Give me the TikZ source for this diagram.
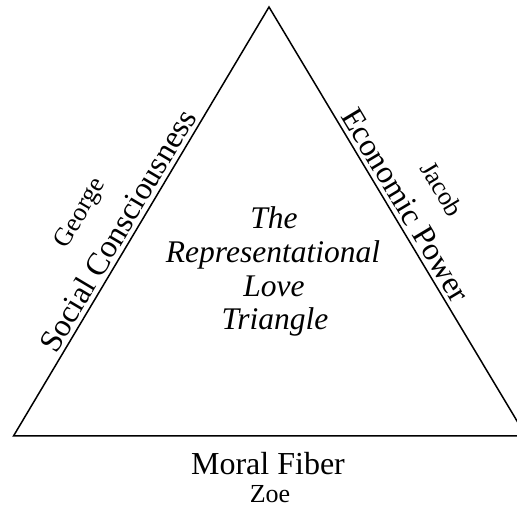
\documentclass[tikz,border=0pt]{standalone}
\usepackage{fontspec}
\setmainfont{Liberation Serif}
\usetikzlibrary{calc}
\begin{document}
\begin{tikzpicture}[x=1pt,y=1pt,
  edge/.style={line width=1.5pt, line join=miter},
  big/.style={font=\fontsize{32}{34}\selectfont, inner sep=0pt},
  small/.style={font=\fontsize{26}{28}\selectfont, inner sep=0pt},
  mid/.style={font=\fontsize{31.5}{34}\selectfont\itshape, inner sep=0pt, anchor=base}]
\useasboundingbox (0,0) rectangle (517,508);
\clip (0,0) rectangle (517,508);
\fill[white] (0,0) rectangle (517,508);
\coordinate (A) at (269,501);
\coordinate (L) at (13.5,72);
\coordinate (R) at (526,72);
\draw[edge] (A) -- (L) -- (R) -- cycle;
% left side labels
\path (L) -- (A)
  node (sc) [big, pos=0.46, sloped, anchor=base, yshift=5pt] {Social Consciousness}
  node (ge) [small, pos=0.452, sloped, anchor=base, yshift=50pt] {George};
% right side labels
\path (A) -- (R)
  node (ep) [big, pos=0.48, sloped, anchor=base, yshift=5pt] {Economic Power}
  node (ja) [small, pos=0.49, sloped, anchor=base, yshift=46pt] {Jacob};
% bottom labels
\node (mf) [big, anchor=base] at (268,33) {Moral Fiber};
\node (zo) [small, anchor=base] at (270,5) {Zoe};
% centre title
\node (t1) [mid] at (274,279) {The};
\node (t2) [mid] at (273,245) {Representational};
\node (t3) [mid] at (274,211) {Love};
\node (t4) [mid] at (275,178) {Triangle};
\end{tikzpicture}
\end{document}
